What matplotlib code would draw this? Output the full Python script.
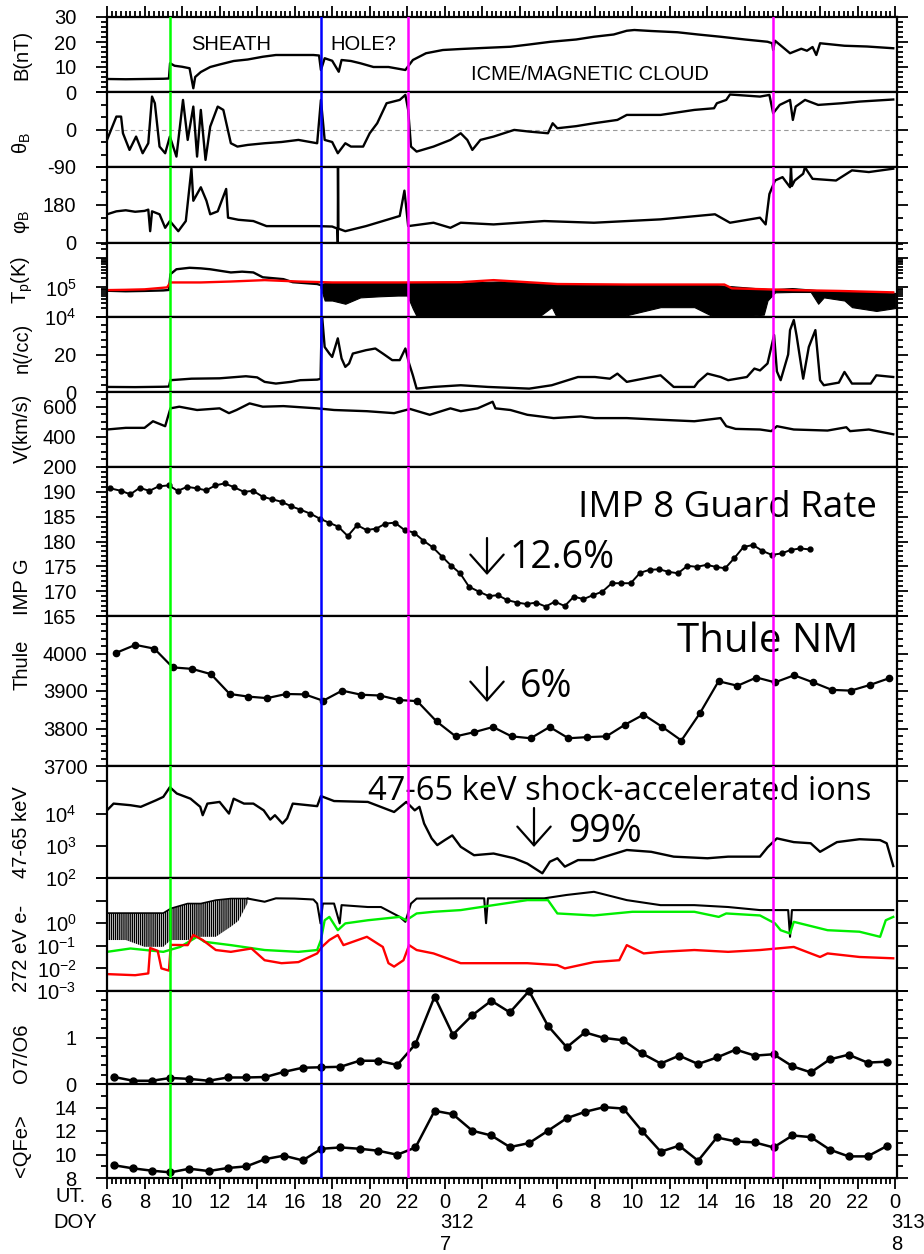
import numpy as np
import matplotlib
matplotlib.use('Agg')
import matplotlib.pyplot as plt
from matplotlib.ticker import MultipleLocator, LogLocator, NullFormatter

plt.rcParams['font.family'] = ['Liberation Sans', 'DejaVu Sans']
plt.rcParams['mathtext.fontset'] = 'custom'
plt.rcParams['mathtext.rm'] = 'Liberation Sans'
plt.rcParams['mathtext.it'] = 'Liberation Sans:italic'
plt.rcParams['mathtext.bf'] = 'Liberation Sans:bold'
plt.rcParams['hatch.linewidth'] = 1.0

# ---------------- data (time in hours from DOY 311 00 UT) ----------------
event_t = [9.38, 17.38, 22.03, 41.47]
event_c = ['#00ff00', '#0000ff', '#ff00ff', '#ff00ff']

b_data = [(6.0, 5.2), (7.0, 5.1), (8.0, 5.2), (9.0, 5.3), (9.3, 5.4), (9.36, 11.5), (9.6, 10.5),
          (10.0, 10.1), (10.4, 9.5), (10.6, 1.5), (10.7, 6.0), (11.0, 8.0), (11.5, 10.0), (12.0, 11.0),
          (12.75, 12.4), (13.5, 13.0), (14.3, 14.1), (15.0, 14.8), (16.0, 14.8), (17.0, 14.8),
          (17.3, 14.6), (17.4, 8.8), (17.6, 13.5), (18.0, 12.5), (18.35, 8.1), (18.5, 12.8),
          (19.0, 12.4), (19.5, 11.5), (20.2, 10.0), (21.0, 10.0), (21.9, 8.8), (22.3, 12.8),
          (23.0, 15.5), (23.9, 16.8), (24.86, 17.2), (26.0, 17.6), (27.5, 18.1), (28.5, 19.0),
          (29.65, 20.1), (31.0, 21.0), (31.95, 22.1), (33.0, 23.0), (33.7, 24.5), (34.1, 24.8),
          (35.0, 24.4), (36.4, 23.9), (37.5, 23.0), (38.7, 22.1), (40.0, 21.0), (41.2, 20.1),
          (41.45, 19.5), (41.5, 16.8), (41.6, 20.5), (42.0, 18.0), (42.4, 15.5), (43.0, 17.3),
          (43.3, 16.5), (43.6, 18.0), (43.8, 14.8), (44.0, 19.5), (45.3, 18.5), (46.5, 18.2),
          (47.9, 17.5)]

theta_data = [(6.0, -25), (6.5, 31), (6.75, 31), (6.85, -9), (7.2, -49), (7.55, -17), (7.9, -57),
              (8.2, -33), (8.4, 79), (8.55, 63), (8.8, -41), (9.1, -57), (9.35, -17), (9.7, -65),
              (10.05, 71), (10.3, -25), (10.6, 55), (10.8, -65), (11.0, 47), (11.25, -73),
              (11.5, 7), (11.9, 55), (12.2, 47), (12.6, -33), (12.95, -41), (13.5, -37),
              (14.4, -33), (15.3, -30), (16.2, -25), (17.2, -33), (17.4, 71), (17.6, -25),
              (18.0, -30), (18.3, -57), (18.7, -33), (19.0, -41), (19.65, -41), (20.0, -9),
              (20.4, 15), (20.9, 63), (21.6, 71), (21.9, 83), (22.05, 47), (22.2, -41),
              (22.5, -53), (23.4, -41), (24.3, -25), (24.85, -9), (25.2, -25), (25.47, -49),
              (25.9, -25), (26.6, -17), (27.7, -1), (28.5, -5), (29.5, -9), (29.75, 15),
              (30.0, 3), (31.0, 8), (31.95, 15), (33.2, 23), (33.7, 35), (35.5, 35), (37.3, 47),
              (38.35, 51), (38.5, 63), (39.0, 71), (39.2, 84), (40.8, 79), (41.3, 83),
              (41.5, 39), (41.85, 59), (42.4, 71), (42.55, 23), (42.7, 55), (43.2, 71),
              (43.9, 59), (45.15, 63), (46.1, 67), (47.9, 72)]

phi_data = [(6.0, 136), (6.5, 150), (7.0, 155), (7.5, 148), (8.0, 152), (8.2, 158), (8.3, 56),
            (8.4, 150), (8.8, 136), (9.1, 72), (9.35, 104), (9.8, 56), (10.2, 104), (10.5, 352),
            (10.6, 200), (11.0, 264), (11.3, 200), (11.5, 136), (11.9, 150), (12.35, 256),
            (12.45, 120), (13.0, 110), (13.8, 104), (14.5, 80), (16.2, 80), (17.2, 80),
            (18.0, 78), (18.28, 68), (18.3, 2), (18.31, 358), (18.33, 68), (18.7, 56), (19.8, 80),
            (21.0, 112), (21.6, 128), (21.85, 248), (22.05, 80), (23.4, 96), (24.3, 72),
            (24.85, 96), (26.6, 88), (29.3, 104), (31.95, 96), (35.5, 112), (38.4, 136),
            (39.2, 96), (40.8, 120), (41.1, 88), (41.3, 232), (41.6, 296), (42.0, 312),
            (42.4, 264), (42.45, 360), (42.5, 270), (42.65, 296), (43.1, 328), (43.2, 360),
            (43.3, 344), (43.6, 304), (44.85, 296), (45.7, 344), (46.6, 336), (47.9, 352)]

tp_data = [(6.0, 7.7e4), (7.0, 7.4e4), (8.0, 7.6e4), (9.0, 7.9e4), (9.3, 8.2e4), (9.38, 2.8e5),
           (9.7, 4.1e5), (10.4, 4.6e5), (11.0, 4.4e5), (11.5, 4.1e5), (12.6, 3.2e5),
           (13.2, 3.4e5), (13.8, 3.2e5), (14.3, 2.2e5), (15.4, 1.9e5), (15.9, 1.5e5),
           (17.2, 1.3e5), (17.38, 1.2e5)]
tp_band_t = [17.38, 17.6, 18.0, 18.7, 19.5, 20.5, 21.5, 22.0, 22.3, 22.7, 23.5, 24.85, 27.0,
             28.9, 29.7, 30.0, 31.0, 33.0, 35.5, 37.3, 38.5, 41.0, 41.2, 41.6, 42.5, 43.5,
             43.9, 44.2, 45.3, 45.7, 47.0, 48.0]
tp_band_lo = [1.0e5, 3.6e4, 3.6e4, 2.8e4, 4.6e4, 5.0e4, 5.3e4, 5.3e4, 1.9e4, 6.0e3, 7.7e3, 8.0e3,
              8.0e3, 9.0e3, 2.15e4, 9.0e3, 9.0e3, 9.0e3, 2.15e4, 2.15e4, 9.0e3, 1.2e4, 3.6e4,
              6.8e4, 7.0e4, 7.0e4, 2.8e4, 4.6e4, 3.6e4, 2.15e4, 1.6e4, 2.0e4]
tp_band_hi = [1.3e5, 1.4e5, 1.4e5, 1.4e5, 1.4e5, 1.4e5, 1.4e5, 1.4e5, 1.4e5, 1.4e5, 1.4e5,
              1.45e5, 1.6e5, 1.4e5, 1.3e5, 1.3e5, 1.25e5, 1.2e5, 1.2e5, 1.2e5, 1.2e5, 9.0e4,
              8.8e4, 8.8e4, 9.5e4, 8.5e4, 8.0e4, 8.0e4, 7.8e4, 7.5e4, 7.0e4, 6.5e4]
tex_data = [(6.0, 8.1e4), (7.0, 8.3e4), (8.0, 8.6e4), (9.2, 1.0e5), (9.38, 1.47e5), (11.0, 1.47e5),
            (12.6, 1.58e5), (14.4, 1.76e5), (16.2, 1.58e5), (18.0, 1.47e5), (21.6, 1.47e5),
            (24.85, 1.5e5), (26.6, 1.76e5), (30.0, 1.3e5), (33.7, 1.25e5), (38.9, 1.25e5),
            (39.3, 9.3e4), (42.6, 8.1e4), (45.0, 7.6e4), (47.9, 6.8e4)]

n_data = [(6.0, 2.7), (7.5, 2.6), (9.0, 2.8), (9.3, 2.9), (9.38, 6.3), (10.5, 7.1), (12.0, 7.3),
          (13.4, 8.4), (14.0, 7.8), (14.4, 5.4), (15.0, 4.5), (15.8, 5.4), (16.3, 6.3),
          (17.2, 6.6), (17.38, 7.0), (17.45, 42), (17.6, 24), (17.85, 20.5), (18.0, 18.7),
          (18.3, 28.6), (18.5, 17.9), (18.7, 13.4), (18.9, 15.2), (19.1, 20.5), (19.8, 22.3),
          (20.3, 23.2), (20.7, 20.5), (21.2, 17.0), (21.6, 17.0), (21.9, 23.2), (22.1, 15.2),
          (22.3, 8.9), (22.5, 1.8), (23.4, 2.7), (24.85, 3.6), (26.3, 2.7), (28.5, 1.8),
          (29.7, 3.6), (31.1, 8.0), (32.0, 8.0), (32.8, 7.1), (33.2, 9.8), (33.7, 5.4),
          (35.5, 8.9), (36.2, 2.7), (37.3, 2.7), (37.5, 5.4), (38.0, 9.8), (38.7, 8.0),
          (39.1, 6.3), (40.1, 8.0), (40.5, 12.5), (40.8, 11.5), (41.2, 15.2), (41.55, 30.4),
          (41.7, 11.0), (41.9, 6.3), (42.3, 20.0), (42.4, 33.0), (42.6, 38.4), (42.75, 30.0),
          (43.1, 7.1), (43.4, 24.0), (43.75, 33.0), (44.0, 6.3), (44.2, 3.6), (45.0, 5.0),
          (45.3, 10.7), (45.7, 4.5), (46.7, 4.5), (47.0, 8.9), (47.9, 8.0)]

v_data = [(6.0, 450), (7.0, 461), (8.0, 461), (8.45, 505), (9.1, 472), (9.38, 591), (9.85, 602),
          (10.8, 580), (12.0, 591), (12.5, 559), (12.9, 580), (13.6, 624), (14.3, 602),
          (15.4, 606), (17.2, 591), (18.1, 580), (19.85, 572), (21.3, 559), (22.15, 587),
          (23.2, 548), (24.3, 591), (24.85, 572), (25.75, 591), (26.55, 635), (26.7, 591),
          (27.5, 580), (28.4, 548), (29.8, 526), (31.25, 537), (32.0, 526), (33.7, 526),
          (35.5, 515), (37.3, 505), (38.7, 526), (39.0, 472), (39.5, 454), (40.8, 450),
          (41.4, 439), (41.7, 472), (42.6, 450), (44.4, 443), (45.4, 465), (45.6, 439),
          (46.6, 450), (47.9, 418)]

imp_data = [(6.18, 190.7), (6.75, 190.2), (7.24, 189.5), (7.74, 190.8), (8.26, 190.2),
            (8.75, 191.1), (9.29, 191.3), (9.77, 190.2), (10.27, 191.0), (10.8, 190.7),
            (11.28, 190.3), (11.78, 191.3), (12.27, 191.7), (12.79, 190.9), (13.29, 190.0),
            (13.79, 190.2), (14.3, 189.0), (14.8, 188.5), (15.3, 188.0), (15.81, 187.1),
            (16.31, 186.4), (16.84, 185.6), (17.34, 184.6), (17.82, 183.8), (18.32, 183.0),
            (18.83, 181.1), (19.33, 183.3), (19.83, 182.3), (20.35, 182.6), (20.84, 183.6),
            (21.34, 183.8), (21.86, 182.3), (22.35, 181.8), (22.85, 180.2), (23.37, 178.8),
            (23.87, 176.9), (24.35, 175.1), (24.82, 173.6), (25.29, 170.9), (25.82, 169.9),
            (26.35, 169.0), (26.83, 169.2), (27.33, 168.2), (27.87, 167.7), (28.36, 167.4),
            (28.86, 167.7), (29.38, 166.9), (29.87, 167.9), (30.39, 167.0), (30.88, 168.9),
            (31.39, 168.4), (31.9, 169.2), (32.4, 169.9), (32.9, 171.6), (33.41, 171.6),
            (33.91, 171.6), (34.41, 173.7), (34.92, 174.3), (35.42, 174.4), (35.92, 173.9),
            (36.43, 173.6), (36.93, 175.1), (37.43, 174.9), (37.95, 175.3), (38.44, 174.9),
            (38.94, 174.6), (39.42, 176.6), (39.92, 178.9), (40.43, 179.3), (40.93, 178.1),
            (41.43, 177.3), (41.95, 177.6), (42.44, 178.3), (42.94, 178.6), (43.46, 178.4)]
imp_err = 0.35

thule_data = [(6.5, 4002), (7.51, 4023), (8.52, 4013), (9.5, 3963), (10.53, 3959), (11.54, 3945),
              (12.54, 3892), (13.54, 3885), (14.53, 3881), (15.55, 3892), (16.54, 3891),
              (17.52, 3874), (18.53, 3901), (19.55, 3890), (20.54, 3888), (21.55, 3876),
              (22.53, 3873), (23.56, 3819), (24.58, 3779), (25.55, 3790), (26.57, 3804),
              (27.56, 3779), (28.58, 3774), (29.59, 3804), (30.59, 3774), (31.6, 3777),
              (32.61, 3779), (33.6, 3810), (34.59, 3837), (35.6, 3804), (36.61, 3768),
              (37.6, 3841), (38.59, 3926), (39.6, 3914), (40.61, 3936), (41.6, 3923),
              (42.62, 3942), (43.63, 3923), (44.63, 3903), (45.64, 3901), (46.65, 3916),
              (47.68, 3934)]

ion_data = [(6.0, 1.26e4), (6.35, 2.04e4), (7.25, 1.82e4), (7.8, 1.62e4), (8.6, 2.57e4),
            (9.0, 3.3e4), (9.35, 6.6e4), (9.72, 4.2e4), (10.45, 2.9e4), (10.97, 1.62e4),
            (11.1, 8.9e3), (11.35, 2.04e4), (12.0, 2.3e4), (12.5, 1.0e4), (12.75, 2.9e4),
            (13.3, 2.04e4), (13.8, 2.04e4), (14.35, 1.26e4), (14.7, 6.5e3), (14.95, 8.9e3),
            (15.35, 4.9e3), (15.6, 7.1e3), (15.9, 2.04e4), (17.2, 1.7e4), (17.4, 3.5e4),
            (18.1, 2.45e4), (19.9, 2.3e4), (21.3, 1.12e4), (21.95, 2.3e4), (22.4, 1.26e4),
            (22.65, 1.62e4), (22.9, 4.9e3), (23.3, 1.7e3), (23.6, 1.05e3), (24.0, 1.5e3),
            (24.4, 2.1e3), (24.85, 930), (25.56, 510), (26.6, 575), (27.7, 410), (28.4, 280),
            (29.2, 140), (29.6, 320), (30.0, 410), (30.4, 225), (31.1, 360), (31.95, 360),
            (33.7, 740), (35.0, 650), (36.2, 460), (38.0, 410), (39.1, 460), (40.8, 460),
            (41.2, 890), (41.7, 1.7e3), (42.6, 1.3e3), (43.5, 1.2e3), (44.0, 650),
            (44.9, 1.3e3), (46.1, 1.6e3), (47.2, 1.5e3), (47.55, 1.2e3), (47.9, 235)]

# 272 eV electrons: black (noisy envelope early, then line), green, red
e_band_t = [6.0, 7.0, 8.0, 9.0, 9.4, 10.3, 11.0, 11.8, 12.6, 13.0, 13.5]
e_band_hi = [2.8, 2.8, 2.8, 2.8, 4.5, 7.4, 7.4, 10.5, 12.3, 12.3, 12.3]
e_band_lo = [0.18, 0.18, 0.09, 0.09, 0.18, 0.18, 0.25, 0.25, 0.7, 1.26, 8.0]
e_black = [(13.5, 12.3), (14.4, 8.9), (15.0, 12.6), (16.0, 12.3), (17.0, 11.2), (17.2, 7.4),
           (17.38, 0.98), (17.5, 7.4), (18.1, 7.4), (18.4, 0.98), (18.5, 6.3), (19.9, 5.2),
           (20.6, 5.2), (21.6, 1.9), (21.9, 1.15), (22.2, 7.4), (22.5, 12.3), (24.85, 12.6),
           (26.1, 12.6), (26.2, 1.0), (26.3, 12.6), (29.3, 12.6), (30.5, 17.8), (31.95, 24.5),
           (33.7, 10.5), (35.5, 6.3), (37.3, 6.3), (39.1, 5.2), (40.8, 3.8), (42.3, 3.8),
           (42.4, 0.25), (42.5, 3.8), (44.4, 3.8), (47.9, 3.8)]
e_green = [(6.0, 0.054), (7.25, 0.076), (9.0, 0.054), (9.9, 0.089), (10.8, 0.25), (11.2, 0.15),
           (12.6, 0.107), (14.4, 0.065), (16.2, 0.054), (17.2, 0.065), (17.4, 0.18), (17.6, 1.35),
           (17.85, 1.9), (18.3, 0.49), (18.7, 0.98), (19.9, 1.35), (21.6, 1.9), (21.95, 1.35),
           (22.5, 2.7), (23.4, 3.2), (24.85, 3.8), (26.6, 6.3), (28.4, 10.5), (29.5, 10.5),
           (30.0, 2.7), (31.95, 2.2), (34.0, 3.2), (37.3, 3.2), (38.6, 1.9), (39.0, 2.7),
           (40.8, 2.2), (41.6, 0.98), (41.9, 0.49), (42.4, 0.35), (42.6, 1.15), (44.4, 0.49),
           (46.1, 0.42), (47.2, 0.25), (47.5, 1.35), (47.9, 1.9)]
e_red = [(6.0, 0.0056), (7.5, 0.005), (8.2, 0.006), (8.3, 0.08), (8.7, 0.06), (8.9, 0.01),
         (9.3, 0.008), (9.4, 0.11), (10.3, 0.107), (10.6, 0.3), (11.1, 0.18), (11.8, 0.065),
         (12.6, 0.054), (13.7, 0.076), (14.4, 0.023), (15.3, 0.017), (16.2, 0.019), (17.2, 0.046),
         (17.45, 0.089), (17.85, 0.18), (18.3, 0.3), (18.6, 0.107), (19.85, 0.25), (20.7, 0.089),
         (21.0, 0.017), (21.3, 0.012), (21.8, 0.023), (22.1, 0.107), (22.5, 0.065), (23.4, 0.046),
         (24.85, 0.017), (26.6, 0.017), (28.4, 0.017), (30.0, 0.014), (30.4, 0.01), (31.95, 0.019),
         (33.3, 0.023), (33.7, 0.107), (34.6, 0.046), (35.5, 0.054), (37.3, 0.065), (39.1, 0.054),
         (40.8, 0.065), (42.6, 0.089), (44.0, 0.032), (44.4, 0.046), (46.1, 0.032), (47.9, 0.028)]

o7o6_t = [6.39, 7.39, 8.4, 9.38, 10.39, 11.42, 12.43, 13.43, 14.44, 15.42, 16.43, 17.43, 18.44,
          19.46, 20.45, 21.47, 22.44, 23.46, 24.43, 25.47, 26.48, 27.47, 28.49, 29.5, 30.5,
          31.47, 32.49, 33.52, 34.5, 35.51, 36.49, 37.5, 38.5, 39.51, 40.52, 41.52, 42.53,
          43.51, 44.52, 45.52, 46.53, 47.56]
o7o6_v = [0.15, 0.07, 0.07, 0.13, 0.11, 0.07, 0.14, 0.14, 0.15, 0.26, 0.35, 0.36, 0.37, 0.5, 0.5,
          0.41, 0.86, 1.88, 1.06, 1.48, 1.79, 1.54, 2.0, 1.25, 0.79, 1.11, 0.99, 0.94, 0.66, 0.44,
          0.61, 0.43, 0.57, 0.74, 0.61, 0.64, 0.38, 0.25, 0.53, 0.63, 0.46, 0.48]
qfe_v = [9.08, 8.82, 8.62, 8.48, 8.79, 8.59, 8.85, 8.99, 9.61, 9.9, 9.5, 10.49, 10.6, 10.49,
         10.32, 9.98, 10.6, 13.72, 13.43, 12.02, 11.62, 10.63, 10.97, 12.02, 13.09, 13.63, 14.03,
         13.91, 12.02, 10.24, 10.75, 9.47, 11.45, 11.11, 11.03, 10.6, 11.62, 11.48, 10.41, 9.84,
         9.84, 10.72]

hour_ticks = list(range(6, 49, 2))
hour_labels = [str(h % 24) for h in hour_ticks]


def xy(pairs):
    a = np.array(pairs, dtype=float)
    return a[:, 0], a[:, 1]


def sup(e):
    return r'$\mathregular{10^{%d}}$' % e


# ---------------- layout (pixel edges of the stacked panels) ----------------
W, H = 924, 1254
edges = [17, 92, 167, 243, 317, 392, 467, 616, 766, 878, 991, 1084, 1178]
x0px, x1px = 107, 897

fig = plt.figure(figsize=(W / 100, H / 100), dpi=100)
axes = []
for i in range(12):
    top, bot = edges[i], edges[i + 1]
    ax = fig.add_axes([x0px / W, 1 - bot / H, (x1px - x0px) / W, (bot - top) / H])
    ax.set_xlim(6, 48.1)
    ax.set_xticks(hour_ticks)
    ax.xaxis.set_minor_locator(MultipleLocator(0.25))
    ax.tick_params(which='both', direction='out', right=True, top=(i == 0), bottom=(i == 11),
                   labelbottom=(i == 11), width=1.3)
    ax.tick_params(which='major', length=8, labelsize=14.5, pad=14)
    ax.tick_params(which='minor', length=4)
    ax.tick_params(axis='x', which='major', pad=3)
    for s in ax.spines.values():
        s.set_linewidth(1.6)
    for xv, c in zip(event_t, event_c):
        ax.axvline(xv, color=c, lw=1.8, zorder=5)
    axes.append(ax)

axes[11].set_xticklabels(hour_labels)

LW = 1.7

# 1. |B|
ax = axes[0]
t, v = xy(b_data)
ax.plot(t, v, color='k', lw=LW)
ax.set_ylim(0, 30)
ax.set_yticks([0, 10, 20, 30])
ax.yaxis.set_minor_locator(MultipleLocator(2))

# 2. theta_B
ax = axes[1]
t, v = xy(theta_data)
ax.axhline(0, color='#999999', ls='--', lw=0.8, dashes=(4, 3))
ax.plot(t, v, color='k', lw=LW)
ax.set_ylim(-90, 90)
ax.set_yticks([-90, 0, 90], ['-90', '0', ''])
ax.yaxis.set_minor_locator(MultipleLocator(30))

# 3. phi_B
ax = axes[2]
t, v = xy(phi_data)
ax.plot(t, v, color='k', lw=LW)
ax.set_ylim(0, 360)
ax.set_yticks([0, 180, 360], ['0', '180', ''])
ax.yaxis.set_minor_locator(MultipleLocator(60))

# 4. Tp
ax = axes[3]
ax.set_yscale('log')
t, v = xy(tp_data)
ax.plot(t, v, color='k', lw=LW)
ax.fill_between(tp_band_t, tp_band_lo, tp_band_hi, color='k', lw=0.8, clip_on=False)
t, v = xy(tex_data)
ax.plot(t, v, color='red', lw=LW)
ax.set_ylim(1e4, 3.16e6)
ax.set_yticks([1e4, 1e5, 1e6], [sup(4), sup(5), ''])
ax.yaxis.set_minor_locator(LogLocator(base=10, subs=np.arange(2, 10)))
ax.yaxis.set_minor_formatter(NullFormatter())

# 5. density
ax = axes[4]
t, v = xy(n_data)
ax.plot(t, v, color='k', lw=LW)
ax.set_ylim(0, 40)
ax.set_yticks([0, 20, 40], ['0', '20', ''])
ax.yaxis.set_minor_locator(MultipleLocator(4))

# 6. speed
ax = axes[5]
t, v = xy(v_data)
ax.plot(t, v, color='k', lw=LW)
ax.set_ylim(200, 700)
ax.set_yticks([200, 400, 600])
ax.yaxis.set_minor_locator(MultipleLocator(50))

# 7. IMP 8 guard rate
ax = axes[6]
t, v = xy(imp_data)
ax.errorbar(t, v, yerr=imp_err, fmt='-o', color='k', ms=3.5, lw=1.4, elinewidth=1, capsize=0)
ax.set_ylim(165, 195)
ax.set_yticks([165, 170, 175, 180, 185, 190])
ax.yaxis.set_minor_locator(MultipleLocator(1))

# 8. Thule NM
ax = axes[7]
t, v = xy(thule_data)
ax.plot(t, v, '-o', color='k', ms=4.5, lw=1.6)
ax.set_ylim(3700, 4100)
ax.set_yticks([3700, 3800, 3900, 4000, 4100], ['3700', '3800', '3900', '4000', ''])
ax.yaxis.set_minor_locator(MultipleLocator(20))
ax.tick_params(axis='y', which='major', pad=6)

# 9. 47-65 keV ions
ax = axes[8]
ax.set_yscale('log')
t, v = xy(ion_data)
ax.plot(t, v, color='k', lw=LW)
ax.set_ylim(1e2, 3e5)
ax.set_yticks([1e2, 1e3, 1e4, 1e5], [sup(2), sup(3), sup(4), ''])
ax.yaxis.set_minor_locator(LogLocator(base=10, subs=np.arange(2, 10)))
ax.yaxis.set_minor_formatter(NullFormatter())

# 10. 272 eV electrons
ax = axes[9]
ax.set_yscale('log')
ax.fill_between(e_band_t, e_band_lo, e_band_hi, facecolor='none', edgecolor='k',
                hatch='|' * 8, lw=0)
ax.plot(e_band_t, e_band_hi, color='k', lw=1.2)
t, v = xy(e_black)
ax.plot(t, v, color='k', lw=1.5)
t, v = xy(e_green)
ax.plot(t, v, color='#00ee00', lw=LW)
t, v = xy(e_red)
ax.plot(t, v, color='red', lw=LW)
ax.set_ylim(1e-3, 1e2)
ax.set_yticks([1e-3, 1e-2, 1e-1, 1e0, 1e1, 1e2], [sup(-3), sup(-2), sup(-1), sup(0), '', ''])
ax.yaxis.set_minor_locator(LogLocator(base=10, subs=np.arange(2, 10)))
ax.yaxis.set_minor_formatter(NullFormatter())

# 11. O7/O6
ax = axes[10]
ax.plot(o7o6_t, o7o6_v, '-o', color='k', ms=5, lw=1.8, clip_on=False)
ax.set_ylim(0, 2)
ax.set_yticks([0, 1, 2], ['0', '1', ''])
ax.yaxis.set_minor_locator(MultipleLocator(0.2))

# 12. <QFe>
ax = axes[11]
ax.plot(o7o6_t, qfe_v, '-o', color='k', ms=5, lw=1.8)
ax.set_ylim(8, 16)
ax.set_yticks([8, 10, 12, 14, 16], ['8', '10', '12', '14', ''])
ax.yaxis.set_minor_locator(MultipleLocator(1))

# ---------------- labels ----------------
def fx(px):
    return px / W


def fy(py):
    return 1 - py / H


ylabels = [('B(nT)', 55), ('θ$_\\mathregular{B}$', 143), ('φ$_\\mathregular{B}$', 222),
           ('T$_\\mathregular{p}$(K)', 280), ('n(/cc)', 348), ('V(km/s)', 428), ('IMP G', 587),
           ('Thule', 665), ('47-65 keV', 832), ('272 eV e-', 948), ('O7/O6', 1053),
           ('<QFe>', 1146)]
for s, yc in ylabels:
    fig.text(fx(22), fy(yc), s, rotation=90, ha='center', va='center', fontsize=14.5)

fig.text(fx(86), fy(1197), 'UT.', ha='right', va='center', fontsize=14.5)
fig.text(fx(53), fy(1222), 'DOY', ha='left', va='center', fontsize=14.5)
fig.text(fx(440), fy(1222), '312', ha='left', va='center', fontsize=14.5)
fig.text(fx(440), fy(1245), '7', ha='left', va='center', fontsize=14.5)
fig.text(fx(891), fy(1222), '313', ha='left', va='center', fontsize=14.5)
fig.text(fx(891), fy(1245), '8', ha='left', va='center', fontsize=14.5)

ax = axes[0]
ax.text(fx(231), fy(50), 'SHEATH', transform=fig.transFigure, ha='center', va='baseline',
        fontsize=14.5, zorder=1)
ax.text(fx(363), fy(50), 'HOLE?', transform=fig.transFigure, ha='center', va='baseline',
        fontsize=14.5, zorder=1)
ax.text(fx(590), fy(80), 'ICME/MAGNETIC CLOUD', transform=fig.transFigure, ha='center',
        va='baseline', fontsize=14.5, zorder=1)

big = ['Open Sans', 'DejaVu Sans']
notes = [(6, 'IMP 8 Guard Rate', 578, 517, 26.5), (6, '12.6%', 510, 568, 27),
         (7, 'Thule NM', 677, 652, 29), (7, '6%', 520, 697, 27),
         (8, '47-65 keV shock-accelerated ions', 368, 800, 23.5), (8, '99%', 568, 842, 27)]
for k, s, px, py, fs in notes:
    axes[k].text(fx(px), fy(py), s, transform=fig.transFigure, ha='left', va='baseline',
                 fontsize=fs, family=big, zorder=1)

# open-headed down arrows next to the percentages (x, y_top, y_bottom in pixels)
arrows = [(6, 487, 538, 575), (7, 487, 667, 702), (8, 534, 808, 847)]
for k, px, y0, y1 in arrows:
    axes[k].annotate('', xy=(fx(px), fy(y1)), xytext=(fx(px), fy(y0)),
                     xycoords='figure fraction', textcoords='figure fraction',
                     arrowprops=dict(arrowstyle='->,head_length=0.45,head_width=0.4', lw=1.6,
                                     color='k', mutation_scale=30, shrinkA=0, shrinkB=0))

fig.savefig('out.png', dpi=100)
